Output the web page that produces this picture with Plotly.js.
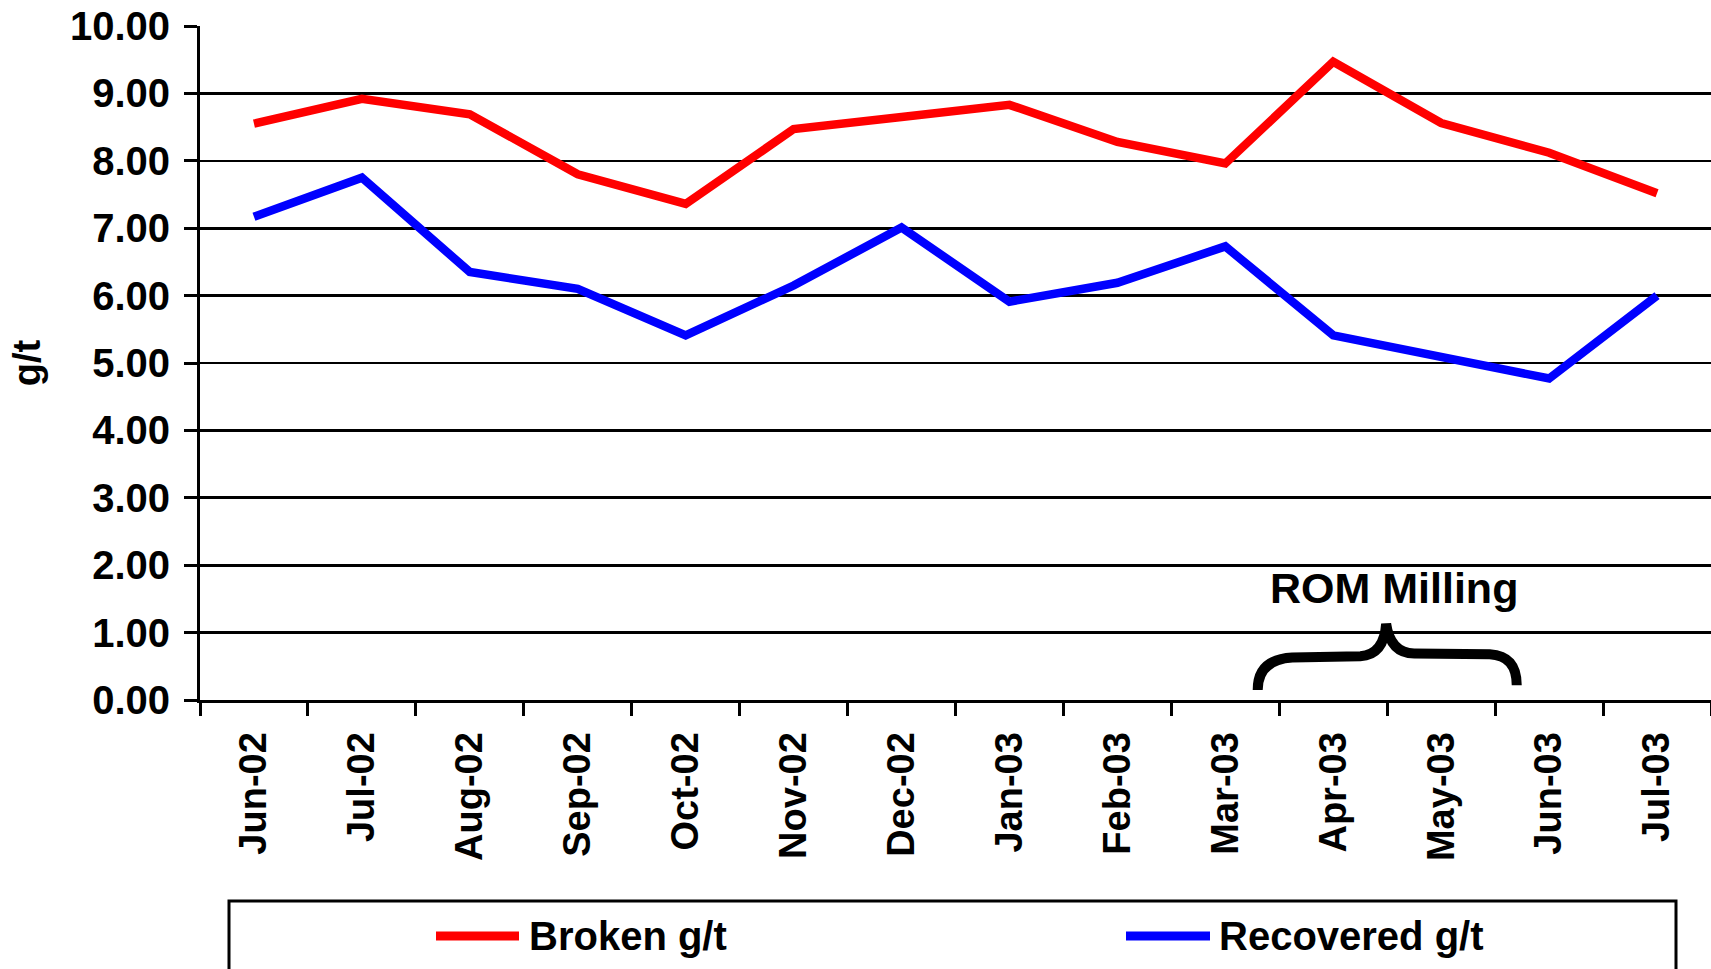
<!DOCTYPE html>
<html>
<head>
<meta charset="utf-8">
<script src="https://cdn.plot.ly/plotly-3.0.1.min.js"></script>
<style>
  html, body { margin: 0; padding: 0; background: #ffffff; }
  #chart { width: 1711px; height: 969px; }
</style>
</head>
<body>
<div id="chart"></div>
<script>
// ---- data ----
var months = ['Jun-02','Jul-02','Aug-02','Sep-02','Oct-02','Nov-02','Dec-02',
              'Jan-03','Feb-03','Mar-03','Apr-03','May-03','Jun-03','Jul-03'];
var brokenGt = [8.55, 8.92, 8.69, 7.80, 7.36, 8.47, 8.65, 8.83, 8.28, 7.96, 9.47, 8.56, 8.12, 7.52];
var recoveredGt = [7.17, 7.75, 6.35, 6.10, 5.41, 6.15, 7.01, 5.91, 6.19, 6.73, 5.41, 5.09, 4.77, 6.00];
var seriesNames = ['Broken g/t', 'Recovered g/t'];
var annotationText = 'ROM Milling';

// ---- layout helpers ----
var W = 1711, H = 969;
var M = {l: 200, r: 0, t: 26, b: 269};
var PW = W - M.l - M.r, PH = H - M.t - M.b;
function px(X) { return (X - M.l) / PW; }     // pixel x -> paper x
function py(Y) { return (H - M.b - Y) / PH; }  // pixel y -> paper y
var n = months.length;
function cx(i) { return (i + 0.5) / n; }       // category index -> paper x
function vy(v) { return v / 10; }              // value -> paper y

var FONT = 'Liberation Sans, Arial, Helvetica, sans-serif';

var traces = [
  {x: months, y: brokenGt, type: 'scatter', mode: 'lines', name: seriesNames[0],
   line: {color: '#ff0000', width: 8.5}, showlegend: false},
  {x: months, y: recoveredGt, type: 'scatter', mode: 'lines', name: seriesNames[1],
   line: {color: '#0000ff', width: 8.5}, showlegend: false}
];

// curly brace (annotation) in category/value space converted to paper
var b = [[9.30,0.15],[9.30,0.60],[9.62,0.63],[10.25,0.65],[10.47,0.67],[10.49,1.13],
         [10.53,0.69],[10.75,0.69],[11.45,0.68],[11.70,0.66],[11.70,0.22]];
function P(k) { return cx(b[k][0]).toFixed(5) + ',' + vy(b[k][1]).toFixed(5); }
var bracePath = 'M' + P(0) + ' Q' + P(1) + ' ' + P(2) + ' L' + P(3) +
                ' Q' + P(4) + ' ' + P(5) + ' Q' + P(6) + ' ' + P(7) +
                ' L' + P(8) + ' Q' + P(9) + ' ' + P(10);

var legendY = py(936);
var shapes = [
  {type: 'path', xref: 'paper', yref: 'paper', path: bracePath,
   line: {color: '#000000', width: 10}},
  // legend box
  {type: 'rect', xref: 'paper', yref: 'paper', x0: px(229), x1: px(1676), y0: py(901), y1: py(1010),
   line: {color: '#000000', width: 3}, fillcolor: 'rgba(0,0,0,0)'},
  {type: 'line', xref: 'paper', yref: 'paper', x0: px(436), x1: px(519), y0: legendY, y1: legendY,
   line: {color: '#ff0000', width: 9}},
  {type: 'line', xref: 'paper', yref: 'paper', x0: px(1126), x1: px(1210), y0: legendY, y1: legendY,
   line: {color: '#0000ff', width: 9}}
];

var annotations = [
  {xref: 'paper', yref: 'paper', x: cx(10.56), y: vy(1.66), text: annotationText, showarrow: false,
   xanchor: 'center', yanchor: 'middle', font: {family: FONT, size: 43, color: '#000', weight: 'bold'}},
  {xref: 'paper', yref: 'paper', x: px(527), y: legendY, text: seriesNames[0], showarrow: false,
   xanchor: 'left', yanchor: 'middle', font: {family: FONT, size: 40, color: '#000', weight: 'bold'}},
  {xref: 'paper', yref: 'paper', x: px(1217), y: legendY, text: seriesNames[1], showarrow: false,
   xanchor: 'left', yanchor: 'middle', font: {family: FONT, size: 40, color: '#000', weight: 'bold'}}
];

var layout = {
  width: W, height: H,
  margin: M,
  paper_bgcolor: '#ffffff', plot_bgcolor: '#ffffff',
  showlegend: false,
  xaxis: {
    type: 'category', range: [-0.5, n - 0.5], fixedrange: true,
    showline: true, linecolor: '#000', linewidth: 3, mirror: false,
    showgrid: false, zeroline: false,
    ticks: 'outside', tickson: 'boundaries', ticklen: 13, tickwidth: 3, tickcolor: '#000',
    tickangle: -90, ticklabelstandoff: 14,
    tickfont: {family: FONT, size: 38, color: '#000', weight: 'bold'}
  },
  yaxis: {
    range: [0, 10], dtick: 1, tick0: 0, tickformat: '.2f', fixedrange: true,
    showline: true, linecolor: '#000', linewidth: 3,
    showgrid: true, gridcolor: '#000', gridwidth: 2.6, zeroline: false,
    ticks: 'outside', ticklen: 13, tickwidth: 3, tickcolor: '#000',
    ticklabelstandoff: 6,
    tickfont: {family: FONT, size: 40, color: '#000', weight: 'bold'},
    title: {text: 'g/t', standoff: 18, font: {family: FONT, size: 38, color: '#000', weight: 'bold'}}
  },
  shapes: shapes,
  annotations: annotations
};

Plotly.newPlot('chart', traces, layout, {displayModeBar: false, staticPlot: true});
</script>
</body>
</html>
